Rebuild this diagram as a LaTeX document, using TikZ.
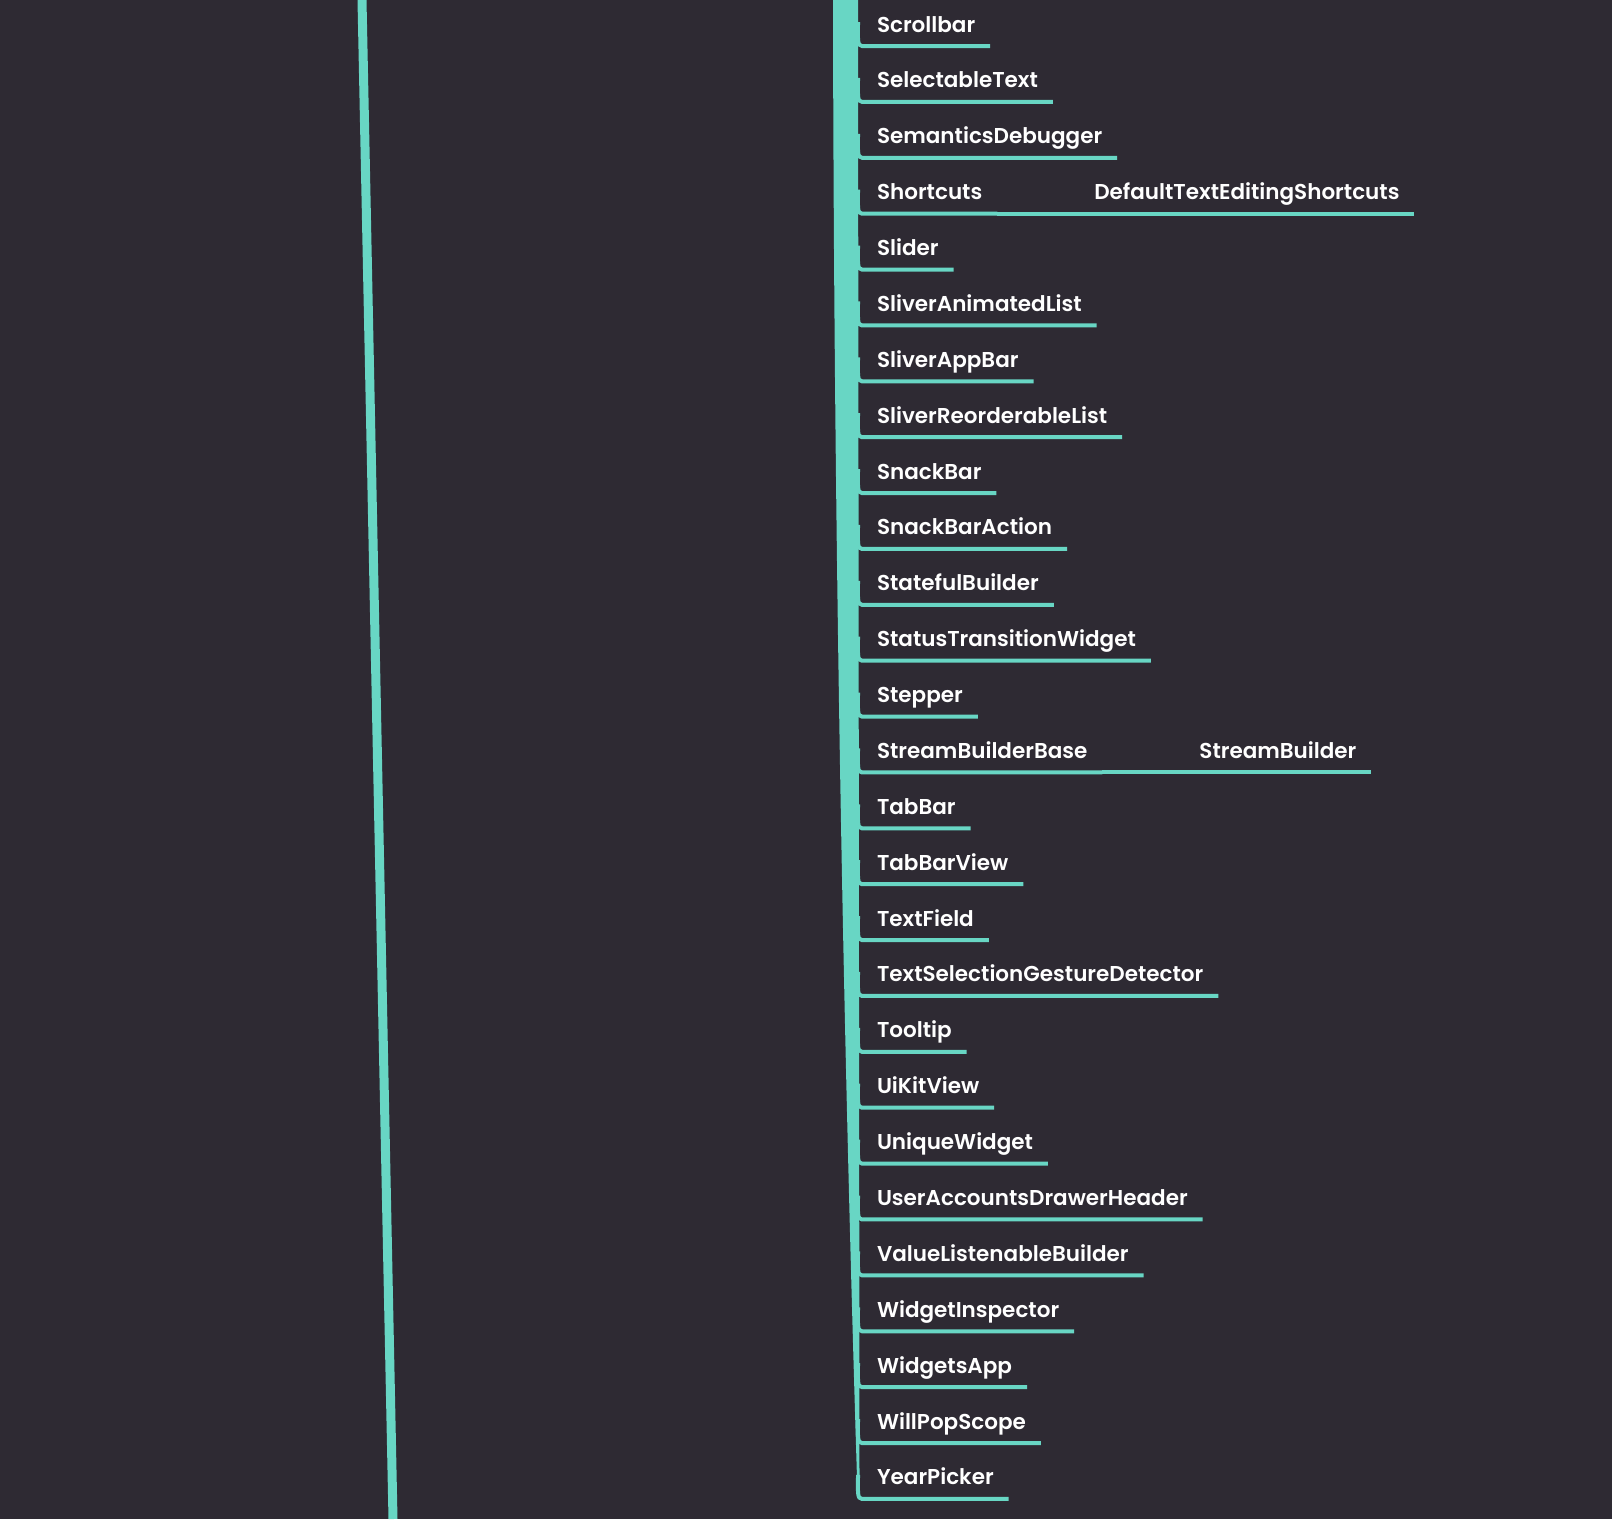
\documentclass[tikz,border=0pt]{standalone}
\usepackage{fontspec}
\setmainfont{Poppins}[UprightFont=* SemiBold]
\usetikzlibrary{positioning}
\definecolor{board}{RGB}{46,42,51}
\definecolor{mint}{RGB}{104,214,196}
\tikzset{
  item/.style = {font=\fontsize{21.5}{24}\selectfont, text=white, inner xsep=15pt, inner ysep=0pt,
                 outer sep=0pt, text height=17pt, text depth=14pt},
  listed below/.style = {below=of #1.south west, anchor=north west},
  line/.style = {draw=mint, line width=4pt},
  twig/.style = {line, to path={++(-4,24) .. controls +(0,-17) and +(-5,0) .. (\tikztostart) -- (\tikztotarget)}},
  spine/.style = {draw=mint, line width=9pt}
}
\begin{document}
\begin{tikzpicture}[x=1pt, y=1pt, node distance=24.88pt and 82pt]

    % Background and frame
    \fill[board] (0,0) rectangle (1612,-1519);
    \useasboundingbox (0,0) rectangle (1612,-1519);

    % Main stem on the left
    \coordinate (stemtop) at (362,0);
    \coordinate (stemend) at (393,-1519);
    \path [spine] (stemtop) -- (stemend);

    % Items
    \node[item, anchor=south west] (scrollbar) at (862,-46) {Scrollbar};
    \node[item, listed below=scrollbar] (selectable) {SelectableText};
    \node[item, listed below=selectable] (semantics) {SemanticsDebugger};
    \node[item, listed below=semantics] (shortcuts) {Shortcuts};
    \node[item, listed below=shortcuts] (slider) {Slider};
    \node[item, listed below=slider] (sliveranim) {SliverAnimatedList};
    \node[item, listed below=sliveranim] (sliverappbar) {SliverAppBar};
    \node[item, listed below=sliverappbar] (sliverreorder) {SliverReorderableList};
    \node[item, listed below=sliverreorder] (snackbar) {SnackBar};
    \node[item, listed below=snackbar] (snackaction) {SnackBarAction};
    \node[item, listed below=snackaction] (stateful) {StatefulBuilder};
    \node[item, listed below=stateful] (statustrans) {StatusTransitionWidget};
    \node[item, listed below=statustrans] (stepper) {Stepper};
    \node[item, listed below=stepper] (streambase) {StreamBuilderBase};
    \node[item, listed below=streambase] (tabbar) {TabBar};
    \node[item, listed below=tabbar] (tabbarview) {TabBarView};
    \node[item, listed below=tabbarview] (textfield) {TextField};
    \node[item, listed below=textfield] (textselect) {TextSelectionGestureDetector};
    \node[item, listed below=textselect] (tooltip) {Tooltip};
    \node[item, listed below=tooltip] (uikit) {UiKitView};
    \node[item, listed below=uikit] (unique) {UniqueWidget};
    \node[item, listed below=unique] (useraccounts) {UserAccountsDrawerHeader};
    \node[item, listed below=useraccounts] (valuelisten) {ValueListenableBuilder};
    \node[item, listed below=valuelisten] (inspector) {WidgetInspector};
    \node[item, listed below=inspector] (widgetsapp) {WidgetsApp};
    \node[item, listed below=widgetsapp] (willpop) {WillPopScope};
    \node[item, listed below=willpop] (yearpicker) {YearPicker};

    % Children
    \node[item, right=of shortcuts] (defaultshortcuts) {DefaultTextEditingShortcuts};
    \node[item, right=of streambase] (streambuilder) {StreamBuilder};

    % Trunk
    \coordinate (trunk) at (845,0);
    \fill[mint] (833,0) -- (858,0) -- (859.5,-1478) -- (857,-1478) .. controls (850,-1250) and (834,-700) .. cycle;

    % Branches
    \path [twig] (scrollbar.south west) to (scrollbar.south east);
    \path [twig] (selectable.south west) to (selectable.south east);
    \path [twig] (semantics.south west) to (semantics.south east);
    \path [twig] (shortcuts.south west) to (shortcuts.south east);
    \path [twig] (slider.south west) to (slider.south east);
    \path [twig] (sliveranim.south west) to (sliveranim.south east);
    \path [twig] (sliverappbar.south west) to (sliverappbar.south east);
    \path [twig] (sliverreorder.south west) to (sliverreorder.south east);
    \path [twig] (snackbar.south west) to (snackbar.south east);
    \path [twig] (snackaction.south west) to (snackaction.south east);
    \path [twig] (stateful.south west) to (stateful.south east);
    \path [twig] (statustrans.south west) to (statustrans.south east);
    \path [twig] (stepper.south west) to (stepper.south east);
    \path [twig] (streambase.south west) to (streambase.south east);
    \path [twig] (tabbar.south west) to (tabbar.south east);
    \path [twig] (tabbarview.south west) to (tabbarview.south east);
    \path [twig] (textfield.south west) to (textfield.south east);
    \path [twig] (textselect.south west) to (textselect.south east);
    \path [twig] (tooltip.south west) to (tooltip.south east);
    \path [twig] (uikit.south west) to (uikit.south east);
    \path [twig] (unique.south west) to (unique.south east);
    \path [twig] (useraccounts.south west) to (useraccounts.south east);
    \path [twig] (valuelisten.south west) to (valuelisten.south east);
    \path [twig] (inspector.south west) to (inspector.south east);
    \path [twig] (widgetsapp.south west) to (widgetsapp.south east);
    \path [twig] (willpop.south west) to (willpop.south east);
    \path [twig] (yearpicker.south west) to (yearpicker.south east);

    % Child links
    \path [line] (shortcuts.south east) -- (defaultshortcuts.south west) -- (defaultshortcuts.south east);
    \path [line] (streambase.south east) -- (streambuilder.south west) -- (streambuilder.south east);

\end{tikzpicture}
\end{document}
